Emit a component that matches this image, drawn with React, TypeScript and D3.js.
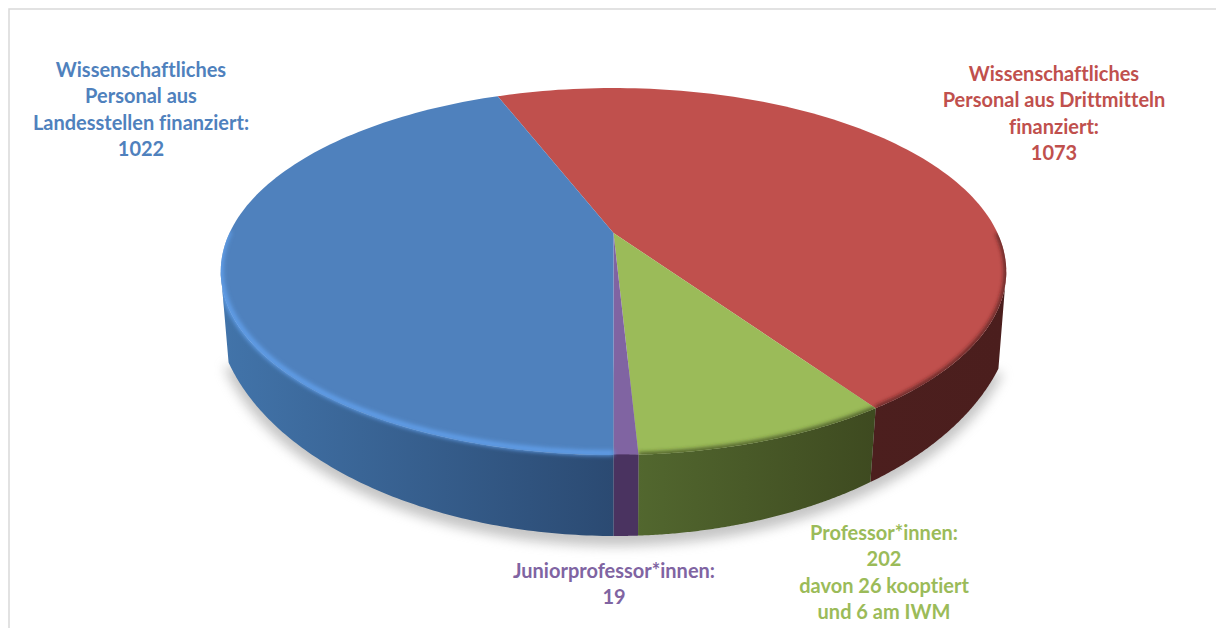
import { useEffect, useRef } from "react";
import * as d3 from "d3";

const categories = [
  "Wissenschaftliches Personal aus Drittmitteln finanziert",
  "Professor*innen",
  "Juniorprofessor*innen",
  "Wissenschaftliches Personal aus Landesstellen finanziert",
];
const values = [1073, 202, 19, 1022];

const labelLines = [
  ["Wissenschaftliches", "Personal aus Drittmitteln", "finanziert:", "1073"],
  ["Professor*innen:", "202", "davon 26 kooptiert", "und 6 am IWM"],
  ["Juniorprofessor*innen:", "19"],
  ["Wissenschaftliches", "Personal aus", "Landesstellen finanziert:", "1022"],
];

const topColors = ["#c0504d", "#9bbb59", "#8064a2", "#4f81bd"];
const rimColors = ["#4d1f1e", "#3e4a20", "#4a3360", "#62a0ec"];
const sideStops = [
  ["#4e2020", "#4b1e1d"],
  ["#546a30", "#3e4a20"],
  ["#4a3360", "#4a3360"],
  ["#2b4a72", "#4274aa"],
];
const labelAnchors = [
  [1054, 81],
  [884, 540],
  [614, 578],
  [141, 77],
];

const width = 1216;
const height = 628;
const cx = 613.5;
const cy = 233;
const tilt = 0.21;
const radiusX = 384;
const radiusY = 175.4;
const shrink = 0.98;
// the base outline is a separate ellipse, flatter at the sides than the rim
const base = { x: 615, y: 302, rx: 400, ry: 234 };

// where the purple/blue border points straight down
const firstAngle =
  Math.PI - ((values[0] + values[1] + values[2]) / d3.sum(values)) * 2 * Math.PI;
// angle of the widest point of the rim, the wall is hidden behind it
const wallStart = Math.acos(-tilt);
const wallEnd = 2 * Math.PI - wallStart;

const project = (a: number): [number, number] => {
  const u = Math.sin(a);
  const v = -Math.cos(a);
  const w = 1 - tilt * v;
  return [cx + (radiusX * u) / w, cy + (radiusY * v) / w];
};

const lower = (p: [number, number]): [number, number] => {
  const x = cx + (p[0] - cx) * shrink;
  const dx = (x - base.x) / base.rx;
  return [x, base.y + base.ry * Math.sqrt(Math.max(0, 1 - dx * dx))];
};

const arcPoints = (a0: number, a1: number) =>
  d3.range(0, 121).map((i) => project(a0 + ((a1 - a0) * i) / 120));

const line = d3.line<[number, number]>();

export default function App() {
  const reference = useRef<SVGSVGElement>(null);

  useEffect(() => {
    const svg = d3.select(reference.current);
    svg.selectAll("*").remove();
    svg.attr("width", width).attr("height", height);

    const pie = d3
      .pie<number>()
      .sort(null)
      .startAngle(firstAngle)
      .endAngle(firstAngle + 2 * Math.PI);
    const slices = pie(values);

    const defs = svg.append("defs");
    [["blurShadow", 6], ["blurRim", 2.2], ["blurHigh", 2]].forEach(([id, s]) => {
      defs
        .append("filter")
        .attr("id", id as string)
        .attr("x", "-10%")
        .attr("y", "-10%")
        .attr("width", "120%")
        .attr("height", "120%")
        .append("feGaussianBlur")
        .attr("stdDeviation", s as number);
    });

    svg
      .append("rect")
      .attr("x", 9)
      .attr("y", 9)
      .attr("width", width + 20)
      .attr("height", height + 20)
      .attr("fill", "#fff")
      .attr("stroke", "#d9d9d9")
      .attr("stroke-width", 1.5);

    // soft shadow below the base
    const baseCurve = arcPoints(wallStart, wallEnd).map(lower);
    svg
      .append("path")
      .attr("d", line(baseCurve) + "Z")
      .attr("transform", "translate(0,7)")
      .attr("fill", "#8c8c8c")
      .attr("stroke", "#8c8c8c")
      .attr("stroke-width", 6)
      .attr("opacity", 0.5)
      .attr("filter", "url(#blurShadow)");

    // side wall
    const outline = defs.append("clipPath").attr("id", "outline");
    slices.forEach((s, i) => {
      const a0 = Math.max(s.startAngle, wallStart);
      const a1 = Math.min(s.endAngle, wallEnd);
      if (a1 <= a0) return;
      const top = arcPoints(a0, a1);
      const bottom = top.map(lower).reverse();
      const xs = top.concat(bottom).map((p) => p[0]);
      const grad = defs
        .append("linearGradient")
        .attr("id", `side${i}`)
        .attr("gradientUnits", "userSpaceOnUse")
        .attr("x1", cx)
        .attr("x2", i === 3 ? d3.min(xs)! : d3.max(xs)!)
        .attr("y1", 0)
        .attr("y2", 0);
      grad.append("stop").attr("offset", 0).attr("stop-color", sideStops[i][0]);
      grad.append("stop").attr("offset", 1).attr("stop-color", sideStops[i][1]);
      const d = line(top.concat(bottom)) + "Z";
      outline.append("path").attr("d", d);
      svg.append("path").attr("d", d).attr("fill", `url(#side${i})`);
    });

    // top face
    slices.forEach((s, i) => {
      const d =
        "M" + cx + "," + cy + "L" + line(arcPoints(s.startAngle, s.endAngle))!.slice(1) + "Z";
      outline.append("path").attr("d", d);
      defs.append("clipPath").attr("id", `face${i}`).append("path").attr("d", d);
      svg.append("path").attr("d", d).attr("fill", topColors[i]);
    });

    // bevel along the rim, only on the visible front
    slices.forEach((s, i) => {
      const a0 = Math.max(s.startAngle, Math.PI * 0.5);
      const a1 = Math.min(s.endAngle, Math.PI * 1.5);
      if (a1 <= a0) return;
      const g = svg
        .append("g")
        .attr("clip-path", i === 3 ? "url(#outline)" : `url(#face${i})`);
      g.append("path")
        .attr("d", line(arcPoints(a0, a1)))
        .attr("transform", i === 3 ? "translate(0,-2)" : null)
        .attr("fill", "none")
        .attr("stroke", rimColors[i])
        .attr("stroke-width", i === 3 ? 5 : 4)
        .attr("filter", i === 3 ? "url(#blurHigh)" : "url(#blurRim)");
    });

    // labels
    labelLines.forEach((lines, i) => {
      const text = svg
        .append("text")
        .attr("x", labelAnchors[i][0])
        .attr("y", labelAnchors[i][1])
        .attr("text-anchor", "middle")
        .attr("fill", topColors[i])
        .attr("aria-label", categories[i])
        .style("font-family", "Lato")
        .style("font-weight", 700)
        .style("font-size", "20px")
        .style("font-variant-ligatures", "none");
      lines.forEach((t, j) => {
        text
          .append("tspan")
          .attr("x", labelAnchors[i][0])
          .attr("dy", j === 0 ? 0 : 26.3)
          .text(t);
      });
    });
  }, []);

  return (
    <svg
      ref={reference}
      style={{ position: "absolute", left: 0, top: 0, display: "block" }}
    ></svg>
  );
}
